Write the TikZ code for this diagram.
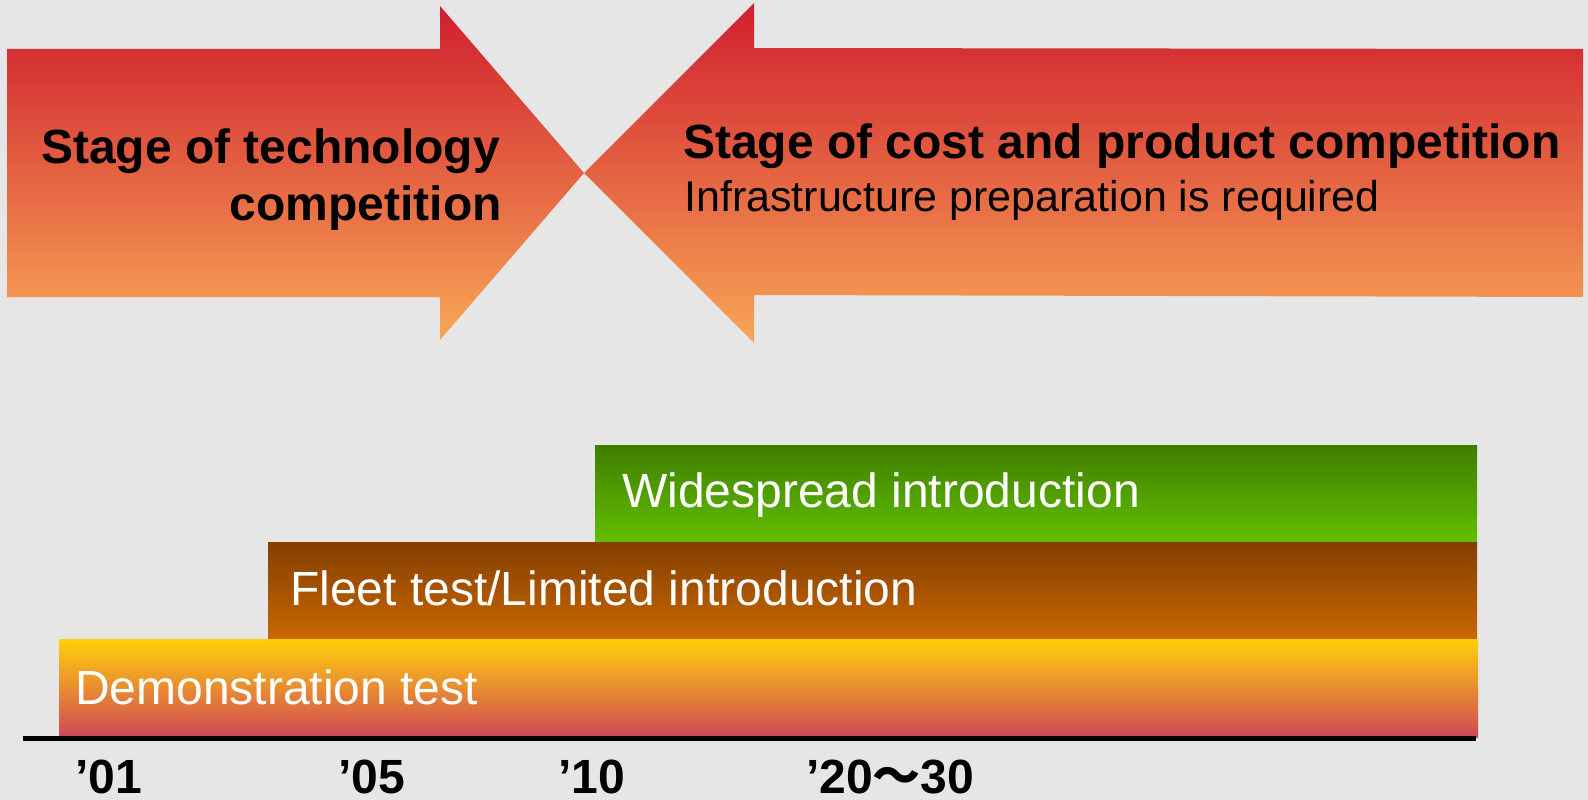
\documentclass[tikz,border=0pt]{standalone}
\usepackage{fontspec}
\setmainfont{Liberation Sans}
\newfontfamily\cjk{Noto Sans CJK SC}
\definecolor{bgray}{RGB}{230,230,230}
\definecolor{arrowtop}{RGB}{208,30,46}
\definecolor{arrowbot}{RGB}{248,166,86}
\definecolor{greentop}{RGB}{63,125,0}
\definecolor{greenbot}{RGB}{98,192,0}
\definecolor{browntop}{RGB}{131,63,0}
\definecolor{brownmid}{RGB}{180,90,0}
\definecolor{brownbot}{RGB}{204,104,0}
\definecolor{yellowtop}{RGB}{255,208,10}
\definecolor{yellowmid}{RGB}{234,150,75}
\definecolor{yellowbot}{RGB}{208,72,88}
\begin{document}
\begin{tikzpicture}[x=1pt, y=-1pt,
    head/.style={font=\fontsize{48}{57}\selectfont\bfseries, inner sep=0pt},
    sub/.style={font=\fontsize{43}{50}\selectfont, inner sep=0pt, anchor=base west},
    bartext/.style={font=\fontsize{48}{57}\selectfont, text=white, inner sep=0pt, anchor=base west},
    year/.style={font=\fontsize{48}{57}\selectfont\bfseries, inner sep=0pt, anchor=base west}]
    \useasboundingbox (0,0) rectangle (1588,800);
    \fill[bgray] (0,0) rectangle (1588,800);
    % the two arrows
    \shade[top color=arrowtop, bottom color=arrowbot] (7,49) -- (440,49) -- (440,6) -- (584,173) -- (440,340) -- (440,297) -- (7,297) -- cycle;
    \shade[top color=arrowtop, bottom color=arrowbot] (1583,49) -- (754,48) -- (754,3) -- (584,173) -- (754,343) -- (754,295) -- (1583,297) -- cycle;
    \node[head, anchor=base east] (techA) at (500,163) {Stage of technology};
    \node[head, anchor=base east] (techB) at (502,220) {competition};
    \node[head, anchor=base west] (cost) at (683,158) {Stage of cost and product competition};
    \node[sub] (infra) at (684,211) {Infrastructure preparation is required};
    % the bars
    \shade[top color=greentop, bottom color=greenbot] (595,445) rectangle (1477,543);
    \shade[top color=browntop, middle color=brownmid, bottom color=brownbot] (268,542) rectangle (1477,642);
    \shade[top color=yellowtop, middle color=yellowmid, bottom color=yellowbot] (59,639) rectangle (1478,737);
    \node[bartext] (wide) at (622,507) {Widespread introduction};
    \node[bartext] (fleet) at (290,605) {Fleet test/Limited introduction};
    \node[bartext] (demo) at (75,704) {Demonstration test};
    % time axis
    \draw[line width=5pt, black] (23,738) -- (1476,738);
    \node[year] (y01) at (75,793) {’01};
    \node[year] (y05) at (338,793) {’05};
    \node[year] (y10) at (558,793) {’10};
    \node[year] (y20) at (806,793) {’20{\cjk ～}30};
\end{tikzpicture}
\end{document}
